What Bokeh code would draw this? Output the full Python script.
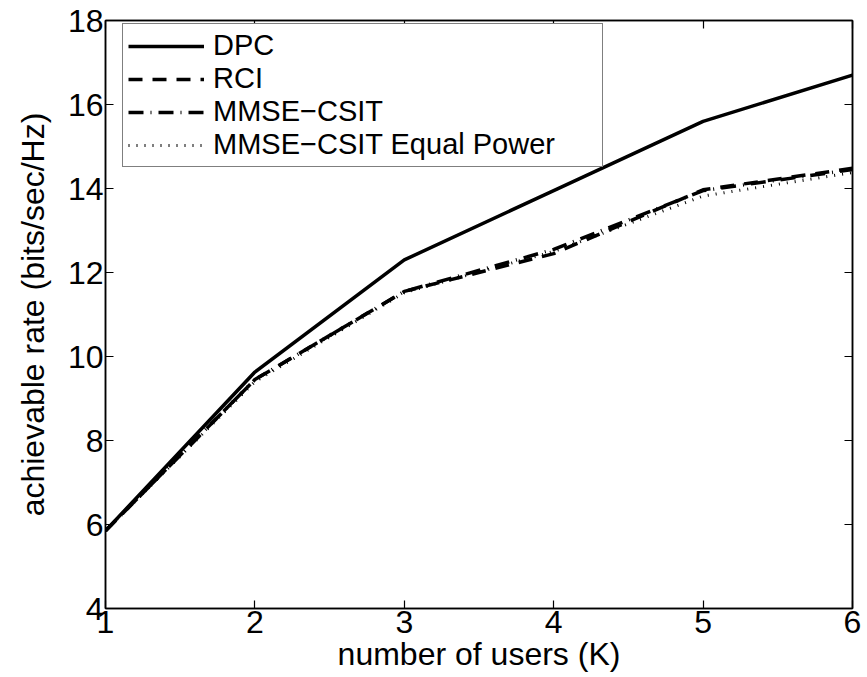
from bokeh.plotting import figure
from bokeh.models import LinearAxis, FixedTicker, Legend, LegendItem, Range1d
from bokeh.embed import file_html
from bokeh.resources import INLINE

# ---- data ----
users = [1, 2, 3, 4, 5, 6]
dpc = [5.85, 9.63, 12.30, 13.95, 15.60, 16.70]
rci = [5.85, 9.45, 11.55, 12.45, 13.97, 14.48]
mmse_csit = [5.85, 9.45, 11.55, 12.55, 13.95, 14.45]
mmse_csit_ep = [5.85, 9.40, 11.52, 12.50, 13.82, 14.38]
x_ticks = [1, 2, 3, 4, 5, 6]
y_ticks = [4, 6, 8, 10, 12, 14, 16, 18]
labels = ["DPC", "RCI", "MMSE\u2212CSIT", "MMSE\u2212CSIT Equal Power"]

FONT = "Liberation Sans"

p = figure(width=867, height=677, output_backend="svg", toolbar_location=None,
           x_range=Range1d(1, 6), y_range=Range1d(4, 18),
           min_border_left=105, min_border_right=15, min_border_top=20, min_border_bottom=69)
p.background_fill_color = "white"
p.border_fill_color = "white"
p.outline_line_color = "black"
p.outline_line_width = 1.5
p.xgrid.visible = False
p.ygrid.visible = False

def style_axis(ax, ticks, show_labels=True):
    ax.ticker = FixedTicker(ticks=ticks)
    ax.major_tick_in = 8
    ax.major_tick_out = 0
    ax.minor_tick_line_color = None
    ax.axis_line_color = "black"
    ax.axis_line_width = 1.5
    ax.major_tick_line_color = "black"
    ax.major_tick_line_width = 1.2
    if show_labels:
        ax.major_label_text_font = FONT
        ax.major_label_text_font_size = "32px"
        ax.major_label_text_color = "black"
        ax.major_label_standoff = 2
    else:
        ax.major_label_text_font_size = "0px"
        ax.major_label_standoff = 0
        ax.major_label_text_color = None

style_axis(p.xaxis[0], x_ticks)
style_axis(p.yaxis[0], y_ticks)
p.xaxis[0].axis_label = "number of users (K)"
p.yaxis[0].axis_label = "achievable rate (bits/sec/Hz)"
for ax in (p.xaxis[0], p.yaxis[0]):
    ax.axis_label_text_font = FONT
    ax.axis_label_text_font_size = "32px"
    ax.axis_label_text_font_style = "normal"
    ax.axis_label_text_color = "black"
p.xaxis[0].axis_label_standoff = 0
p.yaxis[0].axis_label_standoff = 14

top = LinearAxis()
style_axis(top, x_ticks, show_labels=False)
p.add_layout(top, "above")
right = LinearAxis()
style_axis(right, y_ticks, show_labels=False)
p.add_layout(right, "right")

r1 = p.line(users, dpc, line_color="black", line_width=3.5)
r2 = p.line(users, rci, line_color="black", line_width=3.5, line_dash="14 10")
r3 = p.line(users, mmse_csit, line_color="black", line_width=3.5, line_dash="15 7 1 7")
r4 = p.line(users, mmse_csit_ep, line_color="black", line_width=3, line_dash="1 7")

legend = Legend(items=[LegendItem(label=l, renderers=[r]) for l, r in zip(labels, [r1, r2, r3, r4])],
                location=(17, 441))
legend.label_text_font = FONT
legend.label_text_font_size = "29px"
legend.label_text_color = "black"
legend.border_line_color = "black"
legend.border_line_width = 1.2
legend.background_fill_color = "white"
legend.background_fill_alpha = 1
legend.padding = 5
legend.spacing = 0
legend.glyph_width = 76
legend.glyph_height = 28
legend.label_height = 28
legend.label_standoff = 9
legend.label_width = 384
legend.margin = 0
p.add_layout(legend, "center")

open("out.html", "w").write(file_html(p, INLINE))
